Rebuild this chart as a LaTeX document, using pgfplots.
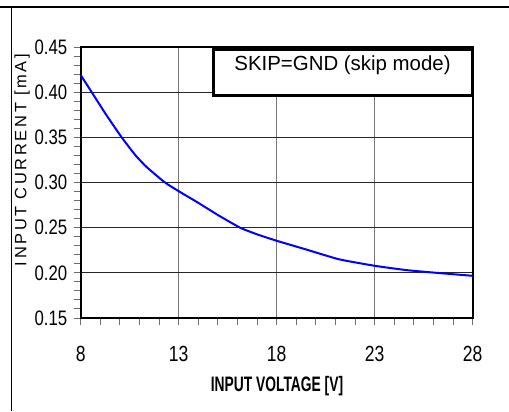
\documentclass[border=0pt]{standalone}
\usepackage{pgfplots}
\pgfplotsset{compat=1.18}
\usepackage{fontspec}
\setmainfont{Liberation Sans}
\newfontfamily\tickfont[FakeStretch=0.8]{Liberation Sans}
\newfontfamily\xlabfont[FakeStretch=0.66]{Liberation Sans}
\newfontfamily\ylabfont[LetterSpace=16]{Liberation Sans}
\definecolor{gridgray}{RGB}{120,120,120}
\definecolor{tickgray}{RGB}{110,110,110}
\begin{document}
\begin{tikzpicture}[x=1bp,y=1bp]
\useasboundingbox (0,0) rectangle (509,411);
% outer frame
\draw[line width=1.5bp,black] (0,404) -- (509,404);
\draw[line width=1.5bp,black] (11.5,0) -- (11.5,404.75);
\begin{axis}[
  at={(80.7bp,93bp)}, anchor=south west,
  width=392bp, height=271bp, scale only axis,
  xmin=8, xmax=28, ymin=0.15, ymax=0.45,
  xtick={8,13,18,23,28},
  ytick={0.15,0.20,0.25,0.30,0.35,0.40,0.45},
  minor x tick num=4, minor y tick num=4,
  xtick pos=bottom, ytick pos=left,
  tick align=outside,
  major tick length=7bp, minor tick length=7bp,
  every tick/.style={tickgray, line width=1bp},
  axis line style={black, line width=1.6bp},
  xmajorgrids, ymajorgrids,
  x grid style={gridgray, line width=0.9bp},
  y grid style={black!85, line width=0.9bp},
  /pgf/number format/assume math mode=true,
  yticklabel style={font=\fontsize{21}{21}\tickfont, /pgf/number format/fixed, /pgf/number format/fixed zerofill, /pgf/number format/precision=2, xshift=-3bp},
  xticklabel style={font=\fontsize{22}{22}\tickfont, yshift=-18bp},
  clip=false,
]
\addplot[blue, line width=2bp, smooth, tension=0.3] coordinates {
(8,0.419) (8.56,0.400) (9.3,0.375) (10.09,0.350) (10.8,0.330) (11.37,0.317)
(12.3,0.300) (13.03,0.290) (14,0.2775) (15,0.264) (16.13,0.250) (17,0.2426)
(18,0.2355) (19.48,0.226) (21.18,0.215) (23,0.2078) (24.63,0.203) (26.16,0.200) (28,0.1967)
};
\end{axis}
% axis labels
\node[font=\fontsize{21}{21}\xlabfont\bfseries] at (277,25) {INPUT VOLTAGE [V]};
\node[rotate=90, font=\fontsize{16.5}{16.5}\ylabfont] at (22,251) {INPUT CURRENT [mA]};
% annotation box
\draw[line width=3bp, black, fill=white] (213,316) rectangle (472,362);
\node[font=\fontsize{20.5}{20.5}\selectfont] at (342.5,346) {SKIP=GND (skip mode)};
\end{tikzpicture}
\end{document}
